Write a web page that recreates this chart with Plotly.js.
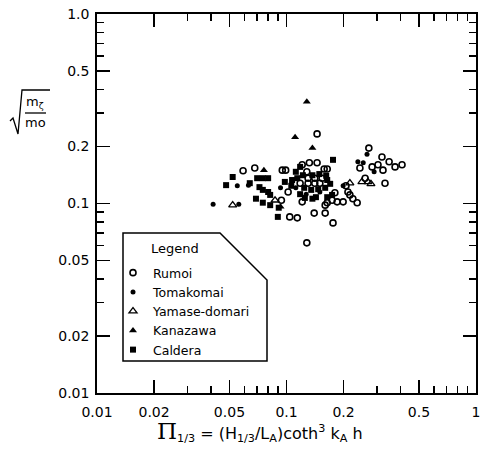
<!DOCTYPE html>
<html><head><meta charset="utf-8">
<script src="https://cdn.plot.ly/plotly-3.0.1.min.js"></script>
<style>html,body{margin:0;padding:0;background:#fff}</style>
</head><body><div id="chart" style="width:482px;height:452px"></div>
<script>
// ---- data ----
const tickVals = [0.01, 0.02, 0.05, 0.1, 0.2, 0.5, 1];
const xTickText = ["0.01", "0.02", "0.05", "0.1", "0.2", "0.5", "1"];
const yTickText = ["0.01", "0.02", "0.05", "0.1", "0.2", "0.5", "1.0"];
const minorVals = [0.03, 0.04, 0.06, 0.07, 0.08, 0.09, 0.3, 0.4, 0.6, 0.7, 0.8, 0.9];

const seriesNames = ["Rumoi", "Tomakomai", "Yamase-domari", "Kanazawa", "Caldera"];

const rumoiX = [0.059, 0.068, 0.095, 0.099, 0.121, 0.132, 0.145, 0.145, 0.158, 0.128,
  0.130, 0.141, 0.154, 0.130, 0.141, 0.150, 0.118, 0.102, 0.094, 0.104,
  0.114, 0.121, 0.140, 0.160, 0.176, 0.128, 0.164, 0.174, 0.185, 0.199,
  0.164, 0.180, 0.160, 0.206, 0.211, 0.216, 0.224, 0.236, 0.244, 0.260,
  0.272, 0.283, 0.304, 0.319, 0.323, 0.331, 0.348, 0.374, 0.407];
const rumoiY = [0.149, 0.154, 0.150, 0.150, 0.160, 0.164, 0.164, 0.233, 0.152, 0.147,
  0.136, 0.136, 0.136, 0.128, 0.128, 0.128, 0.128, 0.115, 0.104, 0.085,
  0.084, 0.102, 0.089, 0.089, 0.079, 0.062, 0.101, 0.104, 0.102, 0.102,
  0.152, 0.114, 0.098, 0.124, 0.115, 0.111, 0.106, 0.101, 0.154, 0.136,
  0.196, 0.156, 0.160, 0.176, 0.150, 0.128, 0.166, 0.156, 0.160];

const tomakomaiX = [0.041, 0.056, 0.055, 0.063, 0.093, 0.238, 0.254, 0.266, 0.290, 0.199, 0.127, 0.150, 0.112];
const tomakomaiY = [0.099, 0.099, 0.124, 0.125, 0.121, 0.166, 0.164, 0.182, 0.147, 0.124, 0.112, 0.115, 0.121];

const yamaseX = [0.052, 0.087, 0.216, 0.250, 0.269, 0.279];
const yamaseY = [0.098, 0.104, 0.128, 0.130, 0.130, 0.127];

const kanazawaX = [0.128, 0.111, 0.137, 0.076, 0.093];
const kanazawaY = [0.344, 0.224, 0.196, 0.150, 0.096];

const calderaX = [0.052, 0.048, 0.064, 0.070, 0.075, 0.080, 0.072, 0.075, 0.080, 0.069,
  0.075, 0.082, 0.082, 0.091, 0.090, 0.098, 0.107, 0.114, 0.118, 0.176,
  0.122, 0.137, 0.149, 0.162, 0.124, 0.135, 0.147, 0.160, 0.170, 0.164,
  0.118, 0.125, 0.137, 0.143, 0.164, 0.174, 0.106, 0.112];
const calderaY = [0.138, 0.125, 0.128, 0.136, 0.136, 0.136, 0.122, 0.118, 0.115, 0.106,
  0.101, 0.098, 0.111, 0.095, 0.085, 0.130, 0.133, 0.136, 0.156, 0.170,
  0.141, 0.141, 0.143, 0.140, 0.121, 0.118, 0.119, 0.121, 0.127, 0.133,
  0.112, 0.107, 0.106, 0.108, 0.108, 0.111, 0.124, 0.147];

// ---- layout helpers (plot area: 97..476 px wide, 14..393 px tall) ----
const L = 97, T = 14, W = 379, H = 379;
const px = v => (v - L) / W;
const py = v => (T + H - v) / H;

const traces = [
  {x: rumoiX, y: rumoiY, name: seriesNames[0], type: "scatter", mode: "markers",
   marker: {symbol: "circle-open", size: 6, color: "black", line: {width: 1.6, color: "black"}}},
  {x: tomakomaiX, y: tomakomaiY, name: seriesNames[1], type: "scatter", mode: "markers",
   marker: {symbol: "circle", size: 5, color: "black"}},
  {x: yamaseX, y: yamaseY, name: seriesNames[2], type: "scatter", mode: "markers",
   marker: {symbol: "triangle-up-open", size: 7, color: "black", line: {width: 1.3, color: "black"}}},
  {x: kanazawaX, y: kanazawaY, name: seriesNames[3], type: "scatter", mode: "markers",
   marker: {symbol: "triangle-up", size: 7, color: "black"}},
  {x: calderaX, y: calderaY, name: seriesNames[4], type: "scatter", mode: "markers",
   marker: {symbol: "square", size: 6, color: "black"}}
];

function makeAxis(ticktext, standoff) {
  return {
    type: "log", range: [-2, 0], tickmode: "array", tickvals: tickVals, ticktext: ticktext,
    ticks: "inside", ticklen: 13, tickwidth: 1.8, tickcolor: "#000000",
    ticklabelstandoff: standoff,
    showline: true, linewidth: 1.8, linecolor: "#000000", mirror: "ticks",
    showgrid: false, zeroline: false,
    tickfont: {family: "DejaVu Sans", size: 14, color: "black"},
    minor: {tickmode: "array", tickvals: minorVals, ticks: "inside", ticklen: 7,
            tickwidth: 1.5, tickcolor: "#000000", showgrid: false}
  };
}

const layout = {
  width: 482, height: 452,
  margin: {l: L, r: 482 - L - W, t: T, b: 452 - T - H},
  paper_bgcolor: "white", plot_bgcolor: "white",
  font: {family: "DejaVu Sans", color: "black"},
  xaxis: makeAxis(xTickText, 5),
  yaxis: makeAxis(yTickText, 3),
  showlegend: true,
  legend: {x: px(113), y: py(258), xanchor: "left", yanchor: "top",
           bgcolor: "rgba(0,0,0,0)", borderwidth: 0, tracegroupgap: 0,
           font: {family: "DejaVu Sans", size: 12.5, color: "black"}},
  shapes: [
    // legend box with cut corner
    {type: "path", xref: "paper", yref: "paper",
     path: `M ${px(123)},${py(361)} L ${px(123)},${py(233)} L ${px(220)},${py(233)} L ${px(267)},${py(280)} L ${px(267)},${py(361)} Z`,
     line: {color: "black", width: 1.5}},
    // radical sign of y title
    {type: "path", xref: "paper", yref: "paper",
     path: `M ${px(10)},${py(121)} L ${px(13)},${py(118)} L ${px(18)},${py(134)} L ${px(22)},${py(90)} L ${px(50)},${py(90)}`,
     line: {color: "black", width: 1.3}},
    // fraction bar
    {type: "line", xref: "paper", yref: "paper", x0: px(25), x1: px(46), y0: py(113), y1: py(113),
     line: {color: "black", width: 1.3}}
  ],
  annotations: [
    {text: "Legend", xref: "paper", yref: "paper", x: px(149), y: py(248),
     xanchor: "left", yanchor: "middle", showarrow: false,
     font: {family: "DejaVu Sans", size: 13, color: "black"}},
    {text: "m<sub>ζ</sub>", xref: "paper", yref: "paper", x: px(35), y: py(103),
     xanchor: "center", yanchor: "middle", showarrow: false,
     font: {family: "DejaVu Sans", size: 13, color: "black"}},
    {text: "mo", xref: "paper", yref: "paper", x: px(35), y: py(122),
     xanchor: "center", yanchor: "middle", showarrow: false,
     font: {family: "DejaVu Sans", size: 13, color: "black"}},
    {text: "<span style='font-size:23px;font-family:DejaVu Serif'>Π</span><sub>1/3</sub> = (H<sub>1/3</sub>/L<sub>A</sub>)coth<sup>3</sup> k<sub>A</sub> h",
     xref: "paper", yref: "paper", x: px(260), y: py(431),
     xanchor: "center", yanchor: "middle", showarrow: false,
     font: {family: "DejaVu Sans", size: 16, color: "black"}}
  ]
};

Plotly.newPlot("chart", traces, layout, {displayModeBar: false, staticPlot: true});
</script></body></html>
